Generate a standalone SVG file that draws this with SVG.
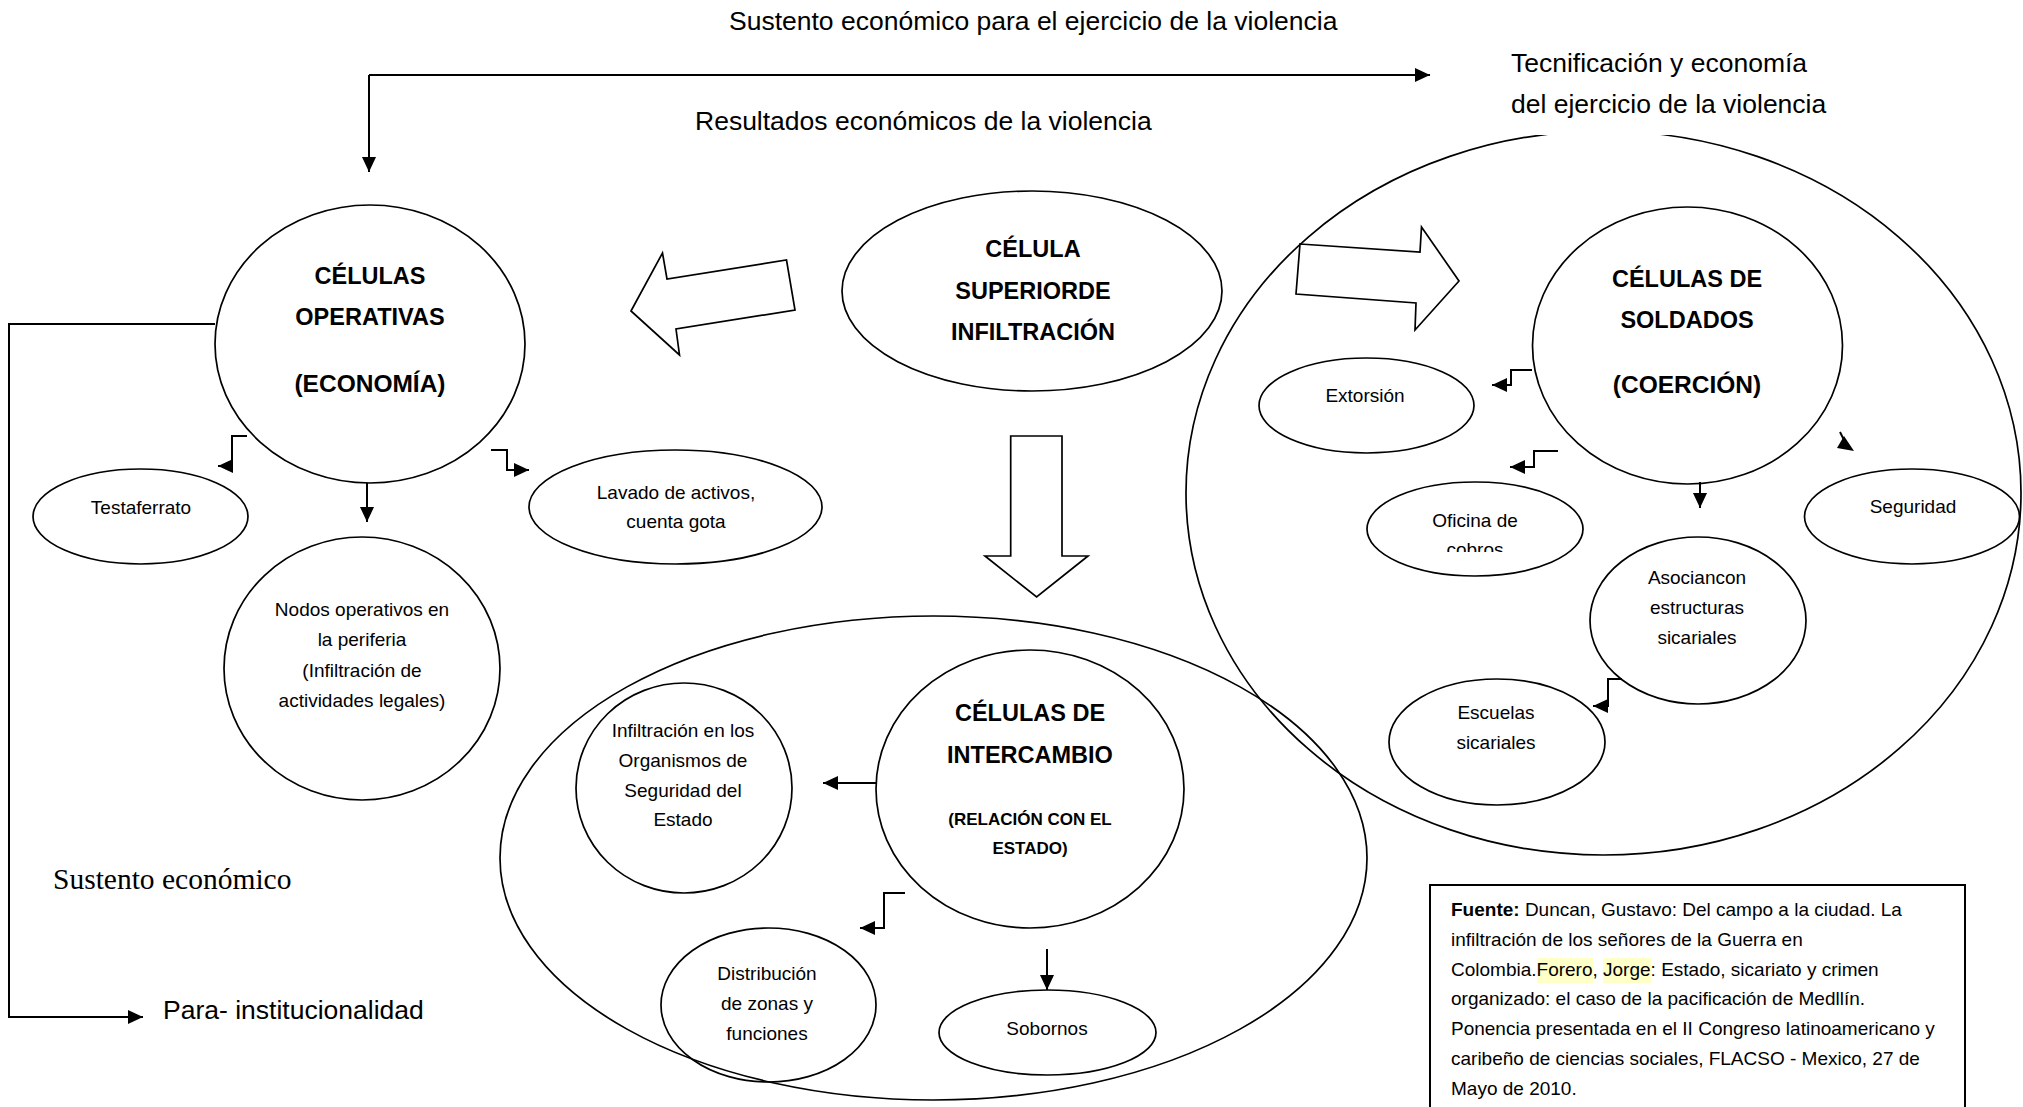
<svg xmlns="http://www.w3.org/2000/svg" width="2023" height="1107" viewBox="0 0 2023 1107">
<style>
text{font-family:"Liberation Sans",Arial,sans-serif;fill:#000}
.big{font-size:26.5px}
.hdr{font-size:23.5px;font-weight:bold;text-anchor:middle}
.hdp{font-size:24.5px;font-weight:bold;text-anchor:middle}
.sub{font-size:17px;font-weight:bold;text-anchor:middle}
.sm{font-size:19px;text-anchor:middle}
.src{font-size:19px}
.serif{font-family:"Liberation Serif","Times New Roman",serif;font-size:29.5px}
.el{fill:none;stroke:#000;stroke-width:1.7}
.blk{fill:#fff;stroke:#000;stroke-width:1.7;stroke-linejoin:miter}
.cn{fill:none;stroke:#000;stroke-width:2}
.ar{marker-end:url(#ah)}
</style>
<defs>
<marker id="ah" viewBox="0 0 15 14" refX="15" refY="7" markerWidth="15" markerHeight="14" markerUnits="userSpaceOnUse" orient="auto">
<path d="M0,0 L15,7 L0,14 z" fill="#000"/>
</marker>
<clipPath id="ofclip"><rect x="1380" y="500" width="200" height="52"/></clipPath>
</defs>
<rect width="2023" height="1107" fill="#fff"/>

<!-- big container ellipses -->
<g id="grupo-soldados">
<ellipse class="el" cx="1603.5" cy="493" rx="417.5" ry="362"/>
</g>
<g id="grupo-intercambio">
<ellipse class="el" cx="933.5" cy="858" rx="433.5" ry="242"/>
</g>

<!-- top labels -->
<g id="labels">
<text class="big" x="729" y="30">Sustento económico para el ejercicio de la violencia</text>
<text class="big" x="695" y="130">Resultados económicos de la violencia</text>
<rect x="1500" y="40" width="340" height="95" fill="#fff"/>
<text class="big" x="1511" y="72">Tecnificación y economía</text>
<text class="big" x="1511" y="113">del ejercicio de la violencia</text>
<text class="serif" x="53" y="889">Sustento económico</text>
<text class="big" x="163" y="1019">Para- institucionalidad</text>
</g>

<!-- block arrows -->
<g id="flechas-bloque">
<polygon class="blk" points="631,311 662.5,253 667,279 786.5,260 795,310 676,329 679.5,355"/>
<polygon class="blk" points="1010.7,436 1062,436 1062,556 1088,556 1036.6,597 985,556 1010.7,556"/>
<polygon class="blk" points="1300,244 1420,252 1421.5,227 1459,281 1415,330 1416,303 1296,294"/>
</g>

<g id="celulas-operativas">
<ellipse class="el" cx="370" cy="344" rx="155" ry="139"/>
<text class="hdr" x="370" y="284">CÉLULAS</text>
<text class="hdr" x="370" y="325">OPERATIVAS</text>
<text class="hdp" x="370" y="392">(ECONOMÍA)</text>
</g>

<g id="celula-superior">
<ellipse class="el" cx="1032" cy="291" rx="190" ry="100"/>
<text class="hdr" x="1033" y="257">CÉLULA</text>
<text class="hdr" x="1033" y="299">SUPERIORDE</text>
<text class="hdr" x="1033" y="340">INFILTRACIÓN</text>
</g>

<g id="celulas-soldados">
<ellipse class="el" cx="1687.5" cy="345.5" rx="155" ry="138.5"/>
<text class="hdr" x="1687" y="287">CÉLULAS DE</text>
<text class="hdr" x="1687" y="328">SOLDADOS</text>
<text class="hdp" x="1687" y="393">(COERCIÓN)</text>
</g>

<g id="celulas-intercambio">
<ellipse class="el" cx="1030" cy="789" rx="154" ry="139"/>
<text class="hdr" x="1030" y="721">CÉLULAS DE</text>
<text class="hdr" x="1030" y="763">INTERCAMBIO</text>
<text class="sub" x="1030" y="825">(RELACIÓN CON EL</text>
<text class="sub" x="1030" y="854">ESTADO)</text>
</g>

<g id="testaferrato">
<ellipse class="el" cx="140.5" cy="516.5" rx="107.5" ry="47.5"/>
<text class="sm" x="141" y="514">Testaferrato</text>
</g>

<g id="lavado">
<ellipse class="el" cx="675.5" cy="507" rx="146.5" ry="57"/>
<text class="sm" x="676" y="499">Lavado de activos,</text>
<text class="sm" x="676" y="528">cuenta gota</text>
</g>

<g id="nodos">
<ellipse class="el" cx="362" cy="668.5" rx="138" ry="131.5"/>
<text class="sm" x="362" y="616">Nodos operativos en</text>
<text class="sm" x="362" y="646">la periferia</text>
<text class="sm" x="362" y="677">(Infiltración de</text>
<text class="sm" x="362" y="707">actividades legales)</text>
</g>

<g id="infiltracion">
<ellipse class="el" cx="684" cy="788" rx="108" ry="105"/>
<text class="sm" x="683" y="737">Infiltración en los</text>
<text class="sm" x="683" y="767">Organismos de</text>
<text class="sm" x="683" y="797">Seguridad del</text>
<text class="sm" x="683" y="826">Estado</text>
</g>

<g id="distribucion">
<ellipse class="el" cx="768.5" cy="1005" rx="107.5" ry="77"/>
<text class="sm" x="767" y="980">Distribución</text>
<text class="sm" x="767" y="1010">de zonas y</text>
<text class="sm" x="767" y="1040">funciones</text>
</g>

<g id="sobornos">
<ellipse class="el" cx="1047.5" cy="1032.5" rx="108.5" ry="42.5"/>
<text class="sm" x="1047" y="1035">Sobornos</text>
</g>

<g id="extorsion">
<ellipse class="el" cx="1366.5" cy="405.5" rx="107.5" ry="47.5"/>
<text class="sm" x="1365" y="402">Extorsión</text>
</g>

<g id="oficina">
<ellipse class="el" cx="1475" cy="529" rx="108" ry="47"/>
<g clip-path="url(#ofclip)">
<text class="sm" x="1475" y="527">Oficina de</text>
<text class="sm" x="1475" y="556">cobros</text>
</g>
</g>

<g id="seguridad">
<ellipse class="el" cx="1912" cy="516.5" rx="107.5" ry="47.5"/>
<text class="sm" x="1913" y="513">Seguridad</text>
</g>

<g id="asociancon">
<ellipse class="el" cx="1698" cy="620.5" rx="108" ry="83.5"/>
<text class="sm" x="1697" y="584">Asociancon</text>
<text class="sm" x="1697" y="614">estructuras</text>
<text class="sm" x="1697" y="644">sicariales</text>
</g>

<g id="escuelas">
<ellipse class="el" cx="1497" cy="742" rx="108" ry="63"/>
<text class="sm" x="1496" y="719">Escuelas</text>
<text class="sm" x="1496" y="749">sicariales</text>
</g>

<g id="fuente">
<rect x="1430" y="885" width="535" height="240" fill="#fff" stroke="#000" stroke-width="2"/>
<rect x="1537" y="958" width="56" height="25" fill="#ffffc8"/>
<rect x="1603" y="958" width="48" height="25" fill="#ffffc8"/>
<text class="src" x="1451" y="916"><tspan font-weight="bold">Fuente:</tspan> Duncan, Gustavo: Del campo a la ciudad. La</text>
<text class="src" x="1451" y="946">infiltración de los señores de la Guerra en</text>
<text class="src" x="1451" y="976">Colombia.Forero, Jorge: Estado, sicariato y crimen</text>
<text class="src" x="1451" y="1005">organizado: el caso de la pacificación de Medllín.</text>
<text class="src" x="1451" y="1035">Ponencia presentada en el II Congreso latinoamericano y</text>
<text class="src" x="1451" y="1065">caribeño de ciencias sociales, FLACSO - Mexico, 27 de</text>
<text class="src" x="1451" y="1095">Mayo de 2010.</text>
</g>

<g id="conectores">
<path class="cn ar" d="M369,75 V172"/>
<path class="cn ar" d="M369,75 H1430"/>
<path class="cn ar" d="M215,324 H9 V1017 H143"/>
<path class="cn ar" d="M247,436 H232 V466 H218"/>
<path class="cn ar" d="M367,483 V522"/>
<path class="cn ar" d="M491,450 H507 V470 H529"/>
<path class="cn ar" d="M1532,370 H1511 V385 H1492"/>
<path class="cn ar" d="M1558,451 H1534 V467 H1510"/>
<path class="cn ar" d="M1700,482 V508"/>
<path class="cn" d="M1840,432 L1844,440"/>
<polygon points="1844,436 1837,448 1854,451" fill="#000"/>
<path class="cn ar" d="M1622,679 H1608 V706 H1593"/>
<path class="cn ar" d="M876,783 H823"/>
<path class="cn ar" d="M905,893 H884 V928 H860"/>
<path class="cn ar" d="M1047,949 V990"/>
</g>
</svg>
